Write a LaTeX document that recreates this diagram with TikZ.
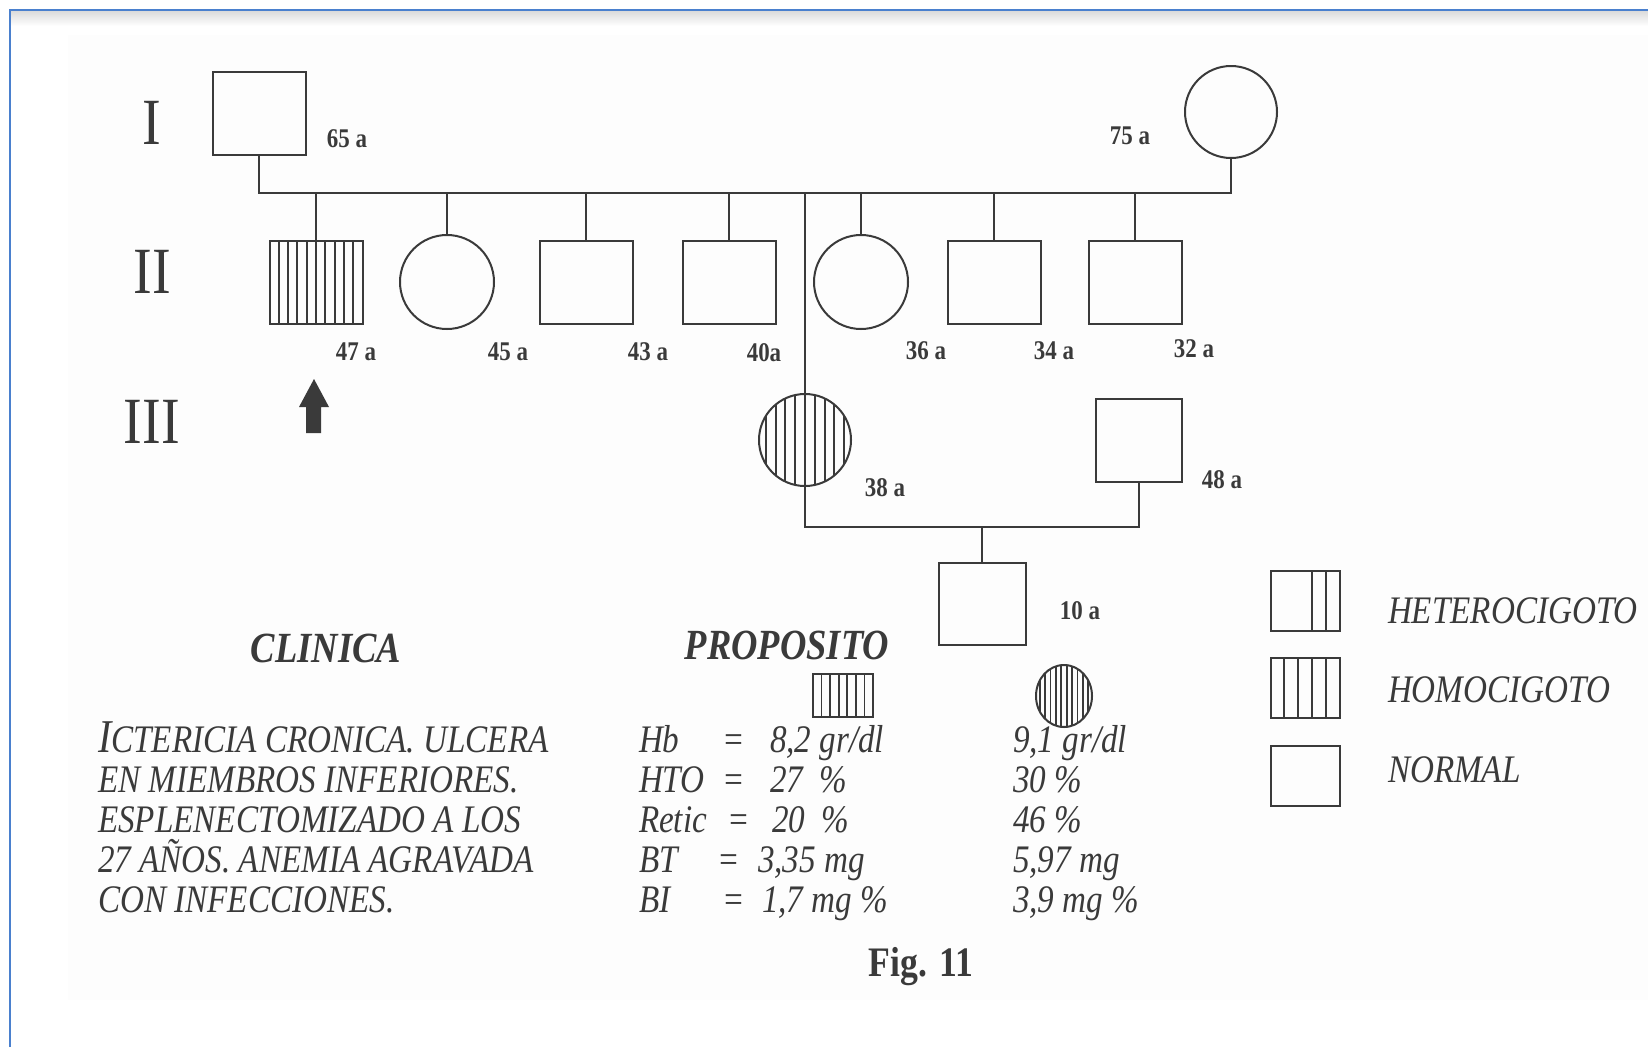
\documentclass[tikz,border=0pt]{standalone}
\usepackage{fontspec}
\setmainfont{Liberation Serif}[FakeStretch=0.85]
\usetikzlibrary{shapes.geometric}

\definecolor{ink}{RGB}{58,58,58}
\definecolor{frameblue}{RGB}{74,128,206}
\definecolor{paper}{RGB}{253,253,253}

\newcommand\agefont{\fontsize{27}{30}\selectfont\bfseries}
\newcommand\genfont{\fontsize{66}{70}\selectfont}
\newcommand\txtfont{\fontsize{39}{40}\selectfont\itshape}
\newcommand\headfont{\fontsize{43}{46}\selectfont\bfseries\itshape}
\newcommand\figfont{\fontsize{42}{46}\selectfont\bfseries}

\begin{document}
\begin{tikzpicture}[x=1pt, y=-1pt, line width=2pt, draw=ink,
  male/.style={draw=ink, rectangle, minimum width=93pt, minimum height=83pt, inner sep=0pt},
  female/.style={draw=ink, circle, minimum size=92pt, inner sep=0pt},
  stripes/.style 2 args={path picture={
    \foreach \k in {#1}
      \draw[ink, line width=1.9pt] ([xshift=\k*#2]path picture bounding box.south) -- ([xshift=\k*#2]path picture bounding box.north);}},
  age/.style={text=ink, font=\agefont, inner sep=0pt},
  gen/.style={text=ink, font=\genfont, inner sep=0pt},
  txt/.style={text=ink, font=\txtfont, anchor=base west, inner sep=0pt}]

  \useasboundingbox (0,0) rectangle (1648,1047);

  % Page frame
  \fill[paper] (68,35) rectangle (1648,1000);
  \shade[top color=black!14, bottom color=white] (11,11) rectangle (1648,26);
  \draw[frameblue] (10,1047) -- (10,10) -- (1648,10);

  % Generations
  \node[gen] (gI) at (152,123) {I};
  \node[gen] (gII) at (152,272) {II};
  \node[gen] (gIII) at (152,422) {III};

  % Generation I
  \node[male] (abuelo) at (259,113) {};
  \node[age] (a65) at (347,139) {65 a};
  \node[female] (abuela) at (1231,112) {};
  \node[age] (a75) at (1130,136) {75 a};

  % Generation II
  \node[male, stripes={-4,...,4}{9.3pt}] (p1) at (316,282) {};
  \node[female, minimum size=94pt] (h2) at (447,282) {};
  \node[male] (h3) at (586,282) {};
  \node[male] (h4) at (729,282) {};
  \node[female, minimum size=94pt] (h5) at (861,282) {};
  \node[male] (h6) at (994,282) {};
  \node[male] (h7) at (1135,282) {};

  \node[age] (a47) at (356,352) {47 a};
  \node[age] (a45) at (508,352) {45 a};
  \node[age] (a43) at (648,352) {43 a};
  \node[age] (a40) at (764,353) {40a};
  \node[age] (a36) at (926,351) {36 a};
  \node[age] (a34) at (1054,351) {34 a};
  \node[age] (a32) at (1194,349) {32 a};

  % Propositus arrow
  \fill[ink] (314,379) -- (329,407) -- (321,407) -- (321,433) -- (306,433) -- (306,407) -- (299,407) -- cycle;

  % Generation III
  \node[female, stripes={-4,...,4}{9.8pt}] (madre) at (805,440) {};
  \node[age] (a38) at (885,488) {38 a};
  \node[male, minimum width=86pt] (padre) at (1139,440) {};
  \node[age] (a48) at (1222,480) {48 a};

  % Generation IV
  \node[male, minimum width=87pt, minimum height=82pt] (hijo) at (982,604) {};
  \node[age] (a10) at (1080,611) {10 a};

  % Sibship and couple lines
  \coordinate (sib) at (259,193);
  \draw (abuelo.south) -- (sib) -- (sib -| abuela.south) -- (abuela.south);
  \foreach \n in {p1,h2,h3,h4,h5,h6,h7,madre}
    \draw (\n.north) -- (\n.north |- sib);
  \coordinate (par) at (805,527);
  \draw (madre.south) -- (par) -- (par -| padre.south) -- (padre.south);
  \draw (hijo.north) -- (hijo.north |- par);

  % Legend
  \node[male, minimum width=69pt, minimum height=60pt, stripes={0.5,1.5}{13.8pt}] (lhet) at (1305,601) {};
  \node[male, minimum width=69pt, minimum height=60pt, stripes={-1.5,-0.5,0.5,1.5}{13.8pt}] (lhom) at (1305,688) {};
  \node[male, minimum width=69pt, minimum height=60pt] (lnor) at (1305,776) {};
  \node[txt] (thet) at (1387,623) {HETEROCIGOTO};
  \node[txt] (thom) at (1387,702) {HOMOCIGOTO};
  \node[txt] (tnor) at (1387,782) {NORMAL};

  % Clinica
  \node[text=ink, font=\headfont] (clin) at (326,648) {CLINICA};
  \node[txt] (cl1) at (97,752) {{\fontsize{47}{40}\selectfont I}CTERICIA CRONICA. ULCERA};
  \node[txt] (cl2) at (97,792) {EN MIEMBROS INFERIORES.};
  \node[txt] (cl3) at (97,832) {ESPLENECTOMIZADO A LOS};
  \node[txt] (cl4) at (97,872) {27 AÑOS. ANEMIA AGRAVADA};
  \node[txt] (cl5) at (97,912) {CON INFECCIONES.};

  % Proposito
  \node[text=ink, font=\headfont] (prop) at (787,645) {PROPOSITO};
  \node[male, minimum width=60pt, minimum height=43pt, stripes={-2.5,-1.5,-0.5,0.5,1.5,2.5}{8.6pt}] (sprop) at (843,695) {};
  \node[ellipse, draw=ink, minimum width=56pt, minimum height=62pt, inner sep=0pt,
    stripes={-4.5,-3.5,-2.5,-1.5,-0.5,0.5,1.5,2.5,3.5,4.5}{5.4pt}] (smadre) at (1064,696) {};

  \node[txt] (tHb) at (638,752) {Hb};
  \node[txt, anchor=base] (eHb) at (734,752) {=};
  \node[txt] (vHb) at (769,752) {8,2 gr/dl};
  \node[txt] (mHb) at (1012,752) {9,1 gr/dl};

  \node[txt] (tHto) at (638,792) {HTO};
  \node[txt, anchor=base] (eHto) at (734,792) {=};
  \node[txt] (vHto) at (769,792) {27 \ \%};
  \node[txt] (mHto) at (1012,792) {30 \%};

  \node[txt] (tRet) at (638,832) {Retic};
  \node[txt, anchor=base] (eRet) at (739,832) {=};
  \node[txt] (vRet) at (771,832) {20 \ \%};
  \node[txt] (mRet) at (1012,832) {46 \%};

  \node[txt] (tBt) at (638,872) {BT};
  \node[txt, anchor=base] (eBt) at (729,872) {=};
  \node[txt] (vBt) at (757,872) {3,35 mg};
  \node[txt] (mBt) at (1012,872) {5,97 mg};

  \node[txt] (tBi) at (638,912) {BI};
  \node[txt, anchor=base] (eBi) at (734,912) {=};
  \node[txt] (vBi) at (761,912) {1,7 mg \%};
  \node[txt] (mBi) at (1012,912) {3,9 mg \%};

  % Caption
  \node[text=ink, font=\figfont] (fig) at (921,967) {Fig. 11};

\end{tikzpicture}
\end{document}
